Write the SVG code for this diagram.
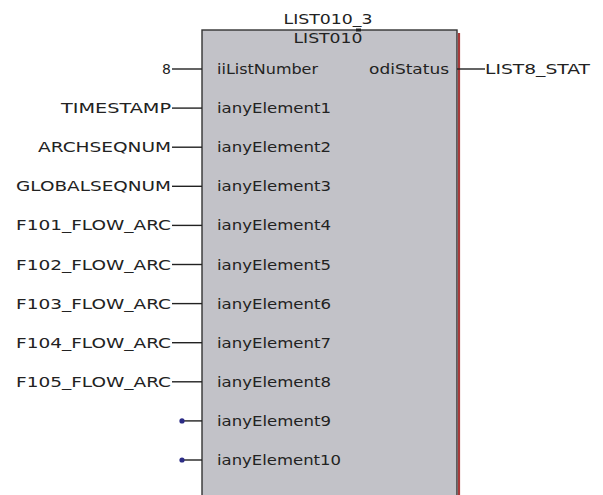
<svg xmlns="http://www.w3.org/2000/svg" width="603" height="495" viewBox="0 0 603 495">
<style>
text{font-family:"DejaVu Sans","Liberation Sans",sans-serif;font-size:14px;fill:#222;}
.l{text-anchor:end;}
.w{stroke:#222;stroke-width:1.4;fill:none;}
.dot{fill:#2c2c86;}
</style>
<rect width="603" height="495" fill="#fff"/>
<g id="block">
<rect x="202" y="30" width="255" height="480" fill="#c2c2c8" stroke="#333" stroke-width="1.4"/>
<line x1="459" y1="33" x2="459" y2="495" stroke="#a83a3a" stroke-width="2.2"/>
<rect x="356" y="28.5" width="5" height="3" fill="#222"/>
<text x="328" y="24" text-anchor="middle" textLength="89" lengthAdjust="spacingAndGlyphs">LIST010_3</text>
<text x="328" y="43" text-anchor="middle" textLength="69" lengthAdjust="spacingAndGlyphs">LIST010</text>
<text x="217" y="74" textLength="101" lengthAdjust="spacingAndGlyphs">iiListNumber</text>
<text x="449" y="74" class="l" textLength="80" lengthAdjust="spacingAndGlyphs">odiStatus</text>
<text x="217" y="113.1" textLength="114" lengthAdjust="spacingAndGlyphs">ianyElement1</text>
<text x="217" y="152.2" textLength="114" lengthAdjust="spacingAndGlyphs">ianyElement2</text>
<text x="217" y="191.3" textLength="114" lengthAdjust="spacingAndGlyphs">ianyElement3</text>
<text x="217" y="230.4" textLength="114" lengthAdjust="spacingAndGlyphs">ianyElement4</text>
<text x="217" y="269.5" textLength="114" lengthAdjust="spacingAndGlyphs">ianyElement5</text>
<text x="217" y="308.6" textLength="114" lengthAdjust="spacingAndGlyphs">ianyElement6</text>
<text x="217" y="347.7" textLength="114" lengthAdjust="spacingAndGlyphs">ianyElement7</text>
<text x="217" y="386.8" textLength="114" lengthAdjust="spacingAndGlyphs">ianyElement8</text>
<text x="217" y="425.9" textLength="114" lengthAdjust="spacingAndGlyphs">ianyElement9</text>
<text x="217" y="465" textLength="124" lengthAdjust="spacingAndGlyphs">ianyElement10</text>
</g>
<g id="inputs">
<text x="171" y="74" class="l">8</text>
<text x="171" y="113.1" class="l" textLength="110" lengthAdjust="spacingAndGlyphs">TIMESTAMP</text>
<text x="171" y="152.2" class="l" textLength="133" lengthAdjust="spacingAndGlyphs">ARCHSEQNUM</text>
<text x="171" y="191.3" class="l" textLength="155" lengthAdjust="spacingAndGlyphs">GLOBALSEQNUM</text>
<text x="171" y="230.4" class="l" textLength="155" lengthAdjust="spacingAndGlyphs">F101_FLOW_ARC</text>
<text x="171" y="269.5" class="l" textLength="155" lengthAdjust="spacingAndGlyphs">F102_FLOW_ARC</text>
<text x="171" y="308.6" class="l" textLength="155" lengthAdjust="spacingAndGlyphs">F103_FLOW_ARC</text>
<text x="171" y="347.7" class="l" textLength="155" lengthAdjust="spacingAndGlyphs">F104_FLOW_ARC</text>
<text x="171" y="386.8" class="l" textLength="155" lengthAdjust="spacingAndGlyphs">F105_FLOW_ARC</text>
</g>
<g id="outputs">
<text x="485" y="74" textLength="105" lengthAdjust="spacingAndGlyphs">LIST8_STAT</text>
</g>
<g id="connectors">
<line class="w" x1="172" y1="69" x2="202" y2="69"/>
<line class="w" x1="172" y1="108.1" x2="202" y2="108.1"/>
<line class="w" x1="172" y1="147.2" x2="202" y2="147.2"/>
<line class="w" x1="172" y1="186.3" x2="202" y2="186.3"/>
<line class="w" x1="172" y1="225.4" x2="202" y2="225.4"/>
<line class="w" x1="172" y1="264.5" x2="202" y2="264.5"/>
<line class="w" x1="172" y1="303.6" x2="202" y2="303.6"/>
<line class="w" x1="172" y1="342.7" x2="202" y2="342.7"/>
<line class="w" x1="172" y1="381.8" x2="202" y2="381.8"/>
<line class="w" x1="182" y1="420.9" x2="202" y2="420.9"/>
<line class="w" x1="182" y1="460" x2="202" y2="460"/>
<circle class="dot" cx="182" cy="420.9" r="2.6"/>
<circle class="dot" cx="182" cy="460" r="2.6"/>
<line class="w" x1="457" y1="69" x2="485" y2="69"/>
</g>
</svg>
